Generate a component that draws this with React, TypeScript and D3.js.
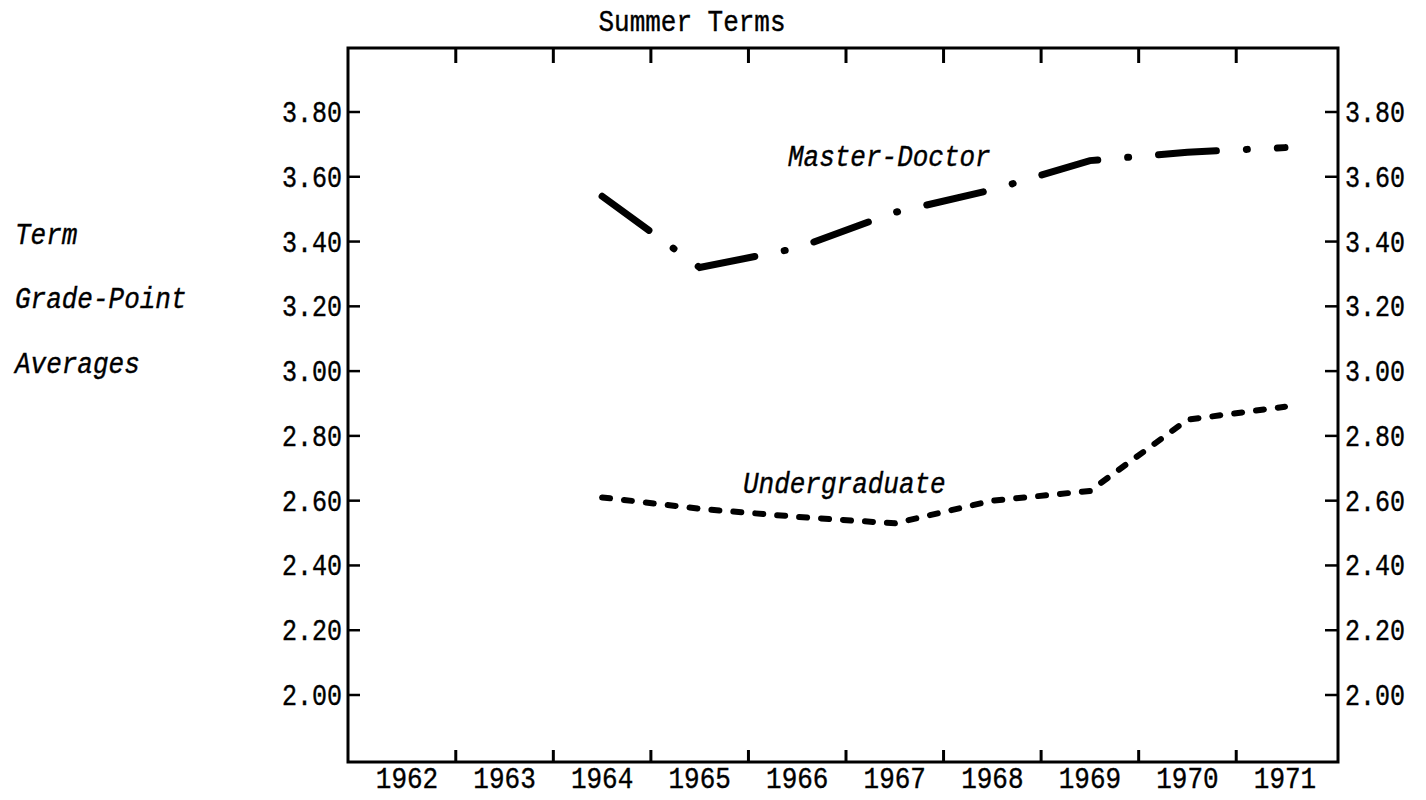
import React from "react";
import * as d3 from "d3";

const years = [1962, 1963, 1964, 1965, 1966, 1967, 1968, 1969, 1970, 1971];
const yTicks = [2.0, 2.2, 2.4, 2.6, 2.8, 3.0, 3.2, 3.4, 3.6, 3.8];
const seriesYears = [1964, 1965, 1966, 1967, 1968, 1969, 1970, 1971];
const masterDoctor = [3.54, 3.32, 3.38, 3.49, 3.56, 3.65, 3.676, 3.69];
const undergraduate = [2.61, 2.575, 2.55, 2.53, 2.6, 2.63, 2.85, 2.89];
const axisWords = ["Term", "Grade-Point", "Averages"];

const W = 1426;
const H = 800;
const left = 348;
const right = 1338;
const top = 48;
const bottom = 762;
const MONO = "'Liberation Mono', 'DejaVu Sans Mono', monospace";

function T(props: {
  x: number;
  y: number;
  size?: number;
  anchor?: "start" | "middle" | "end";
  italic?: boolean;
  children: React.ReactNode;
}) {
  const { x, y, size = 26, anchor = "start", italic = false, children } = props;
  return (
    <text
      transform={`translate(${x},${y}) scale(1,1.15)`}
      textAnchor={anchor}
      fontFamily={MONO}
      fontStyle={italic ? "italic" : "normal"}
      fontSize={size}
      fill="#000"
      stroke="#000"
      strokeWidth={0.35}
    >
      {children}
    </text>
  );
}

export default function App() {
  const x = d3.scaleLinear().domain([1962, 1971]).range([407, 1285]);
  const y = d3.scaleLinear().domain([2.0, 3.8]).range([695, 112]);
  const boundaries = d3.range(1962.5, 1971, 1);

  const line = d3
    .line<number>()
    .x((_, i) => x(seriesYears[i]))
    .y((d) => y(d))
    .curve(d3.curveLinear);

  return (
    <svg
      width={W}
      height={H}
      style={{ position: "absolute", left: 0, top: 0, background: "#fff" }}
    >
      <rect x={0} y={0} width={W} height={H} fill="#fff" />
      <T x={692} y={31} anchor="middle">Summer Terms</T>
      <rect
        x={left}
        y={top}
        width={right - left}
        height={bottom - top}
        fill="none"
        stroke="#000"
        strokeWidth={3}
      />
      {boundaries.map((b) => (
        <g key={"b" + b}>
          <line x1={x(b)} x2={x(b)} y1={top} y2={top + 15} stroke="#000" strokeWidth={3} />
          <line x1={x(b)} x2={x(b)} y1={bottom} y2={bottom - 12} stroke="#000" strokeWidth={3} />
        </g>
      ))}
      {years.map((yr) => (
        <T key={"y" + yr} x={x(yr)} y={788} anchor="middle">
          {yr}
        </T>
      ))}
      {yTicks.map((v) => (
        <g key={"t" + v}>
          <line x1={left} x2={left + 12} y1={y(v)} y2={y(v)} stroke="#000" strokeWidth={2.5} />
          <line x1={right} x2={right - 13} y1={y(v)} y2={y(v)} stroke="#000" strokeWidth={2.5} />
          <T x={342} y={y(v) + 10} size={25} anchor="end">
            {v.toFixed(2)}
          </T>
          <T x={1345} y={y(v) + 10} size={25}>
            {v.toFixed(2)}
          </T>
        </g>
      ))}
      {axisWords.map((w, i) => (
        <T key={w} x={15} y={y(3.4 - i * 0.2) + 2} italic>
          {w}
        </T>
      ))}
      <path
        d={line(masterDoctor) || ""}
        fill="none"
        stroke="#000"
        strokeWidth={7}
        strokeLinecap="round"
        strokeDasharray="58 30 1 30"
      />
      <path
        d={line(undergraduate) || ""}
        fill="none"
        stroke="#000"
        strokeWidth={6}
        strokeLinecap="round"
        strokeDasharray="8 14"
      />
      <T x={788} y={166} italic>Master-Doctor</T>
      <T x={743} y={493} italic>Undergraduate</T>
    </svg>
  );
}
